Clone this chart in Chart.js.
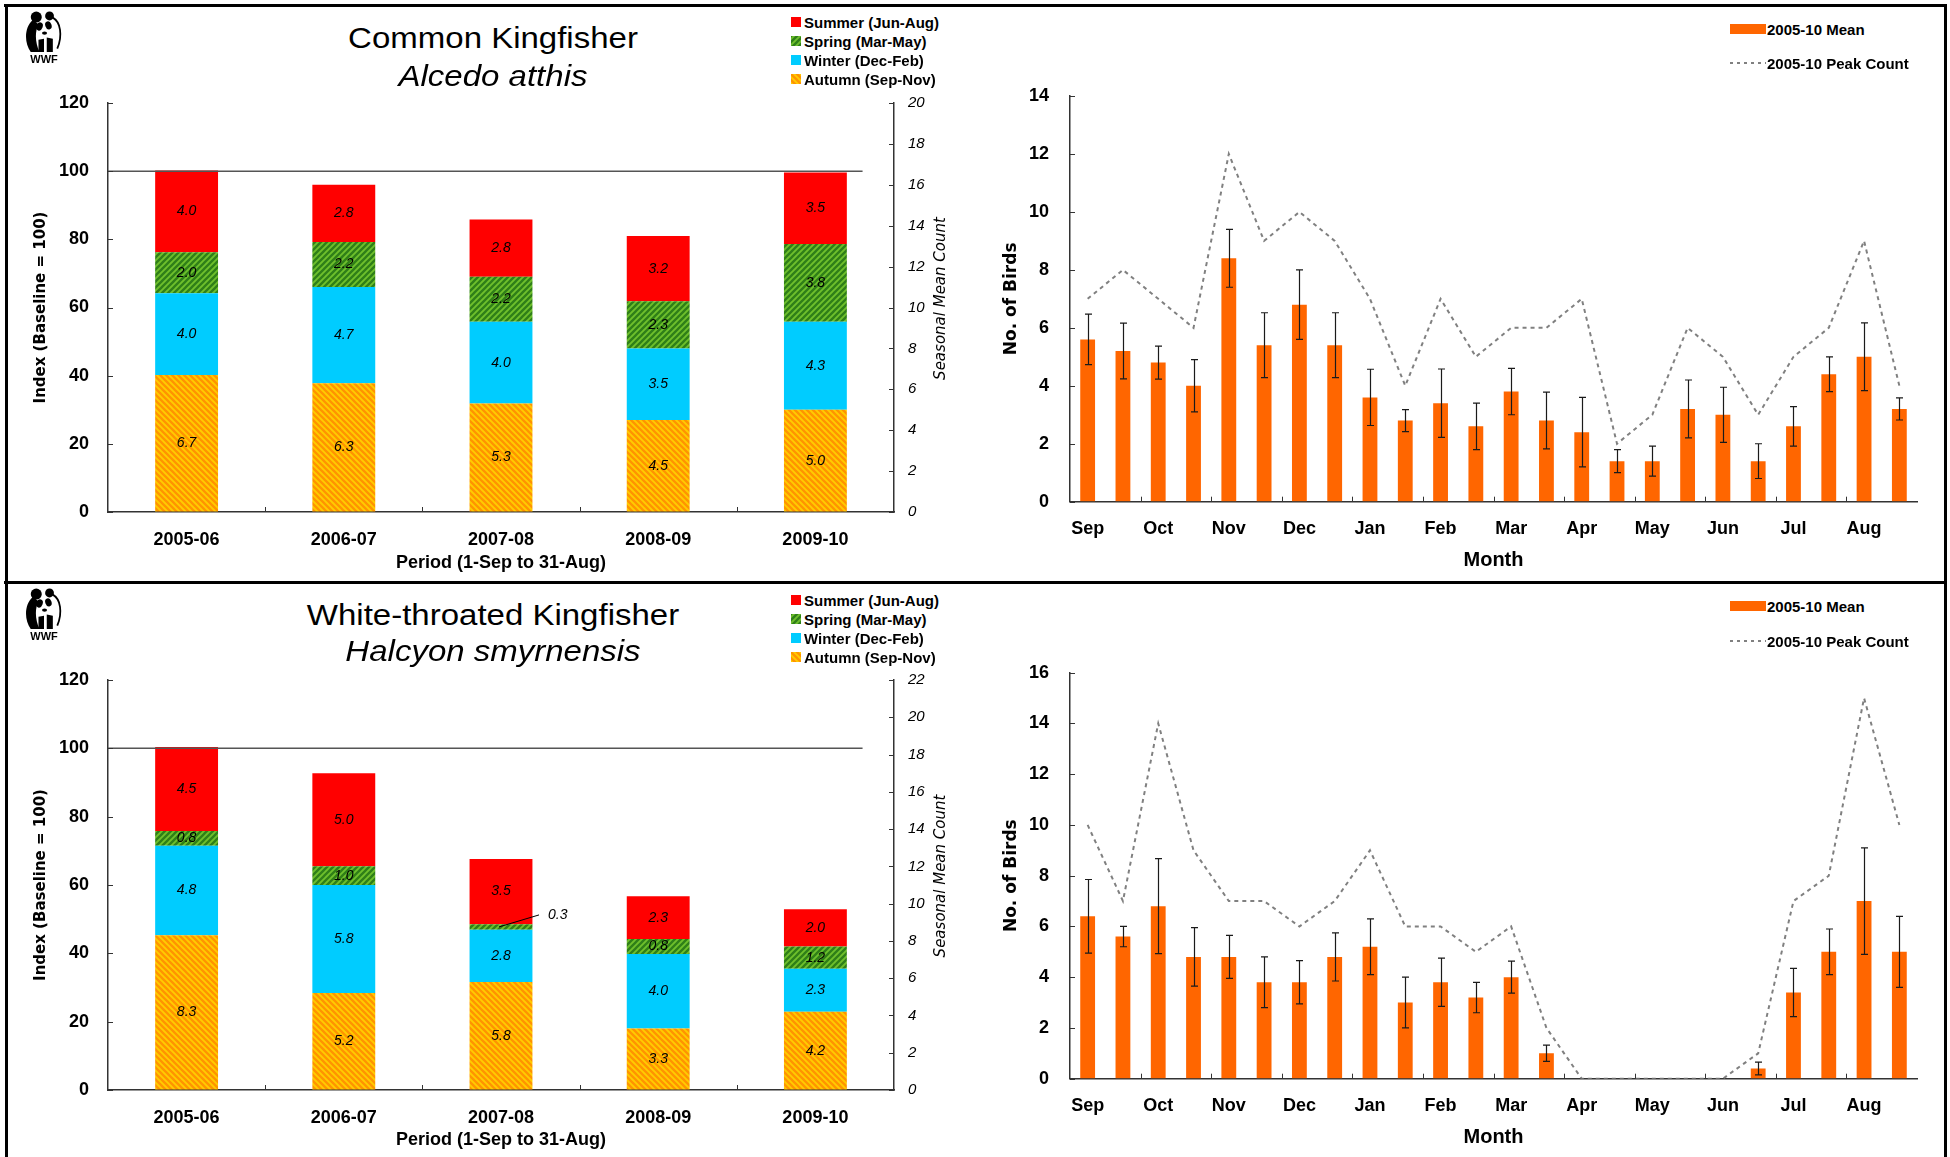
<!DOCTYPE html>
<html lang="en">
<head>
<meta charset="utf-8">
<title>Kingfisher counts 2005-2010</title>
<script src="https://cdn.jsdelivr.net/npm/chart.js@4.4.1/dist/chart.umd.min.js"></script>
<style>
  html, body { margin:0; padding:0; background:#fff; }
  body { position:relative; width:1950px; height:1157px; overflow:hidden;
         font-family:"Liberation Sans", Arial, Helvetica, sans-serif; color:#000; }
  .rule { position:absolute; background:#000; }
  canvas { position:absolute; }
  .title { position:absolute; left:293px; width:400px; text-align:center; white-space:nowrap;
           font-size:30px; line-height:34px; transform:scaleX(1.1); transform-origin:50% 50%; }
  .title.sci { font-style:italic; }
  .legtext { position:absolute; font-weight:bold; font-size:15px; line-height:19px; white-space:nowrap; }
  .wwf { position:absolute; width:40px; text-align:center; font-weight:bold; font-size:11px; line-height:12px; }
</style>
</head>
<body>
<canvas id="ckSeason" width="980" height="509" style="left:0;top:71px"></canvas>
<canvas id="ckMonth" width="990" height="518" style="left:950px;top:62px"></canvas>
<canvas id="wtSeason" width="980" height="509" style="left:0;top:648px"></canvas>
<canvas id="wtMonth" width="990" height="519" style="left:950px;top:638px"></canvas>

<div class="rule" style="left:4px;top:4px;width:1943px;height:3px"></div>
<div class="rule" style="left:5px;top:4px;width:3px;height:1153px"></div>
<div class="rule" style="left:1944px;top:4px;width:3px;height:1153px"></div>
<div class="rule" style="left:4px;top:581px;width:1943px;height:3px"></div>

<div class="title" style="top:21px">Common Kingfisher</div>
<div class="title sci" style="top:59px">Alcedo atthis</div>
<div class="title" style="top:598px">White-throated Kingfisher</div>
<div class="title sci" style="top:634px">Halcyon smyrnensis</div>

<div id="overlay"></div>

<script>
// ---- season totals (mean count per season, 1 Sep to 31 Aug) ----
const PERIODS = ['2005-06', '2006-07', '2007-08', '2008-09', '2009-10'];
const SEASONS = ['Summer (Jun-Aug)', 'Spring (Mar-May)', 'Winter (Dec-Feb)', 'Autumn (Sep-Nov)'];

// Common Kingfisher
const ckAutumn = [6.7, 6.3, 5.3, 4.5, 5.0];
const ckWinter = [4.0, 4.7, 4.0, 3.5, 4.3];
const ckSpring = [2.0, 2.2, 2.2, 2.3, 3.8];
const ckSummer = [4.0, 2.8, 2.8, 3.2, 3.5];

// White-throated Kingfisher
const wtAutumn = [8.3, 5.2, 5.8, 3.3, 4.2];
const wtWinter = [4.8, 5.8, 2.8, 4.0, 2.3];
const wtSpring = [0.8, 1.0, 0.3, 0.8, 1.2];
const wtSummer = [4.5, 5.0, 3.5, 2.3, 2.0];

// index axis: baseline year = 100; count axis maxima line up with index 120
const INDEX_MAX = 120;
const INDEX_STEP = 20;
const BASELINE = 100;
const CK_COUNT_MAX = 20;
const WT_COUNT_MAX = 22;
const COUNT_STEP = 2;

// ---- half-month counts, Sep to Aug ----
const MONTHS = ['Sep', 'Oct', 'Nov', 'Dec', 'Jan', 'Feb', 'Mar', 'Apr', 'May', 'Jun', 'Jul', 'Aug'];
const HALF_MONTHS = MONTHS.flatMap(m => [m + ' (1st half)', m + ' (2nd half)']);

const ckMean = [5.6, 5.2, 4.8, 4.0, 8.4, 5.4, 6.8, 5.4, 3.6, 2.8, 3.4, 2.6,
                3.8, 2.8, 2.4, 1.4, 1.4, 3.2, 3.0, 1.4, 2.6, 4.4, 5.0, 3.2];
const ckErr  = [0.87, 0.96, 0.57, 0.9, 1.0, 1.12, 1.2, 1.12, 0.97, 0.38, 1.18, 0.8,
                0.8, 0.98, 1.2, 0.4, 0.52, 1.0, 0.95, 0.6, 0.68, 0.6, 1.17, 0.38];
const ckPeak = [7, 8, 7, 6, 12, 9, 10, 9, 7, 4, 7, 5,
                6, 6, 7, 2, 3, 6, 5, 3, 5, 6, 9, 4];

const wtMean = [6.4, 5.6, 6.8, 4.8, 4.8, 3.8, 3.8, 4.8, 5.2, 3.0, 3.8, 3.2,
                4.0, 1.0, 0, 0, 0, 0, 0, 0.4, 3.4, 5.0, 7.0, 5.0];
const wtErr  = [1.45, 0.4, 1.87, 1.15, 0.85, 1.0, 0.85, 0.95, 1.1, 1.0, 0.95, 0.6,
                0.63, 0.32, 0, 0, 0, 0, 0, 0.25, 0.95, 0.9, 2.1, 1.4];
const wtPeak = [10, 7, 14, 9, 7, 7, 6, 7, 9, 6, 6, 5,
                6, 2, 0, 0, 0, 0, 0, 1, 7, 8, 15, 10];

const CK_BIRDS_MAX = 14;
const WT_BIRDS_MAX = 16;
const BIRDS_STEP = 2;

const MEAN_LABEL = '2005-10 Mean';
const PEAK_LABEL = '2005-10 Peak Count';

// ---- styling ----
const SANS = '"Liberation Sans", Arial, Helvetica, sans-serif';
const WIDE = '"DejaVu Sans", Verdana, sans-serif';
const AXIS = '#333333';
const COLORS = {
  summer: '#FF0000',
  winter: '#00CCFF',
  springBase: '#6FC02C', springLine: '#2F7F18',
  autumnBase: '#FFCC00', autumnLine: '#FF9400',
  mean: '#FF6600',
  peak: '#808080'
};

// diagonal hatch tile; dir 'down' = "\" stripes, 'up' = "/" stripes
function hatchTile(base, stripe, dir) {
  const s = 6;
  const c = document.createElement('canvas');
  c.width = s; c.height = s;
  const g = c.getContext('2d');
  g.fillStyle = base;
  g.fillRect(0, 0, s, s);
  g.strokeStyle = stripe;
  g.lineWidth = 2.3;
  g.beginPath();
  for (let k = -1; k <= 1; k++) {
    if (dir === 'down') { g.moveTo(-s, k * s - s); g.lineTo(2 * s, k * s + 2 * s); }
    else { g.moveTo(-s, k * s + 2 * s); g.lineTo(2 * s, k * s - s); }
  }
  g.stroke();
  return c;
}
function seasonFills(ctx) {
  return {
    summer: COLORS.summer,
    winter: COLORS.winter,
    spring: ctx.createPattern(hatchTile(COLORS.springBase, COLORS.springLine, 'up'), 'repeat'),
    autumn: ctx.createPattern(hatchTile(COLORS.autumnBase, COLORS.autumnLine, 'down'), 'repeat')
  };
}

// ---- plugins ----
// horizontal reference line at the baseline index
const baselinePlugin = {
  id: 'baseline',
  afterDatasetsDraw(chart, args, opts) {
    const y = chart.scales.y.getPixelForValue(opts.value);
    const xs = chart.scales.x;
    const n = chart.data.labels.length;
    const cw = (xs.right - xs.left) / n;
    const x2 = xs.getPixelForValue(n - 1) + cw * 0.3;
    const ctx = chart.ctx;
    ctx.save();
    ctx.strokeStyle = '#555555';
    ctx.lineWidth = 1.5;
    ctx.beginPath();
    ctx.moveTo(chart.chartArea.left, y);
    ctx.lineTo(x2, y);
    ctx.stroke();
    ctx.restore();
  }
};

// value written inside each stacked segment (or beside it, with a leader, when too thin)
const segmentLabelPlugin = {
  id: 'segmentLabels',
  afterDatasetsDraw(chart) {
    const ctx = chart.ctx;
    ctx.save();
    ctx.font = 'italic 14px ' + SANS;
    ctx.fillStyle = '#000';
    ctx.strokeStyle = '#000';
    ctx.lineWidth = 1;
    ctx.textBaseline = 'middle';
    chart.data.datasets.forEach((ds, di) => {
      chart.getDatasetMeta(di).data.forEach((bar, i) => {
        const v = ds.data[i];
        const yc = (bar.y + bar.base) / 2;
        const txt = v.toFixed(1);
        if (Math.abs(bar.base - bar.y) < 9) {
          const lx = bar.x + 38, ly = yc - 12;
          ctx.beginPath();
          ctx.moveTo(bar.x - 2, yc);
          ctx.lineTo(lx, ly);
          ctx.stroke();
          ctx.textAlign = 'left';
          ctx.fillText(txt, lx + 9, ly);
        } else {
          ctx.textAlign = 'center';
          ctx.fillText(txt, bar.x, yc);
        }
      });
    });
    ctx.restore();
  }
};

// short tick marks drawn inward from each axis line
const innerTickPlugin = {
  id: 'innerTicks',
  afterDraw(chart, args, opts) {
    const ctx = chart.ctx;
    const len = 5;
    ctx.save();
    ctx.strokeStyle = AXIS;
    ctx.lineWidth = 1;
    ctx.beginPath();
    (opts.axes || []).forEach(a => {
      const s = chart.scales[a.id];
      if (s.isHorizontal()) {
        const n = chart.data.labels.length;
        const cw = (s.right - s.left) / n;
        for (let i = a.every; i < n; i += a.every) {
          const x = Math.round(s.left + i * cw) + 0.5;
          ctx.moveTo(x, s.top);
          ctx.lineTo(x, s.top - len);
        }
      } else {
        s.ticks.forEach(t => {
          const y = Math.round(s.getPixelForValue(t.value)) + 0.5;
          const x = s.position === 'left' ? s.right : s.left;
          const d = s.position === 'left' ? len : -len;
          ctx.moveTo(x, y);
          ctx.lineTo(x + d, y);
        });
      }
    });
    ctx.stroke();
    ctx.restore();
  }
};

// title for the right-hand count axis, reading bottom to top
const sideTitlePlugin = {
  id: 'sideTitle',
  afterDraw(chart, args, opts) {
    const ca = chart.chartArea;
    const ctx = chart.ctx;
    ctx.save();
    ctx.translate(ca.right + opts.dx, (ca.top + ca.bottom) / 2 + opts.dy);
    ctx.rotate(-Math.PI / 2);
    ctx.font = 'italic 15px ' + WIDE;
    ctx.fillStyle = '#000';
    ctx.textAlign = 'center';
    ctx.textBaseline = 'middle';
    ctx.fillText(opts.text, 0, 0);
    ctx.restore();
  }
};

// +/- error whiskers on the mean bars
const errorBarPlugin = {
  id: 'errorBars',
  afterDatasetsDraw(chart, args, opts) {
    const meta = chart.getDatasetMeta(opts.datasetIndex);
    const ds = chart.data.datasets[opts.datasetIndex];
    const ys = chart.scales.y;
    const ctx = chart.ctx;
    ctx.save();
    ctx.strokeStyle = '#1a1a1a';
    ctx.lineWidth = 1.2;
    ctx.beginPath();
    meta.data.forEach((bar, i) => {
      const e = opts.errors[i];
      if (!e) return;
      const v = ds.data[i];
      const yt = ys.getPixelForValue(v + e);
      const yb = ys.getPixelForValue(Math.max(0, v - e));
      const x = Math.round(bar.x) + 0.5;
      ctx.moveTo(x, yt); ctx.lineTo(x, yb);
      ctx.moveTo(x - 3.5, yt); ctx.lineTo(x + 3.5, yt);
      ctx.moveTo(x - 3.5, yb); ctx.lineTo(x + 3.5, yb);
    });
    ctx.stroke();
    ctx.restore();
  }
};

const quietPlugins = { legend: { display: false }, tooltip: { enabled: false }, title: { display: false } };

// ---- seasonal stacked index charts ----
function seasonChart(id, s, countMax, dims) {
  const ctx = document.getElementById(id).getContext('2d');
  const fill = seasonFills(ctx);
  const bar = { yAxisID: 'yCount', stack: 'season', barPercentage: 0.4, categoryPercentage: 1.0, borderWidth: 0 };
  return new Chart(ctx, {
    type: 'bar',
    data: {
      labels: PERIODS,
      datasets: [
        Object.assign({ label: SEASONS[3], data: s.autumn, backgroundColor: fill.autumn }, bar),
        Object.assign({ label: SEASONS[2], data: s.winter, backgroundColor: fill.winter }, bar),
        Object.assign({ label: SEASONS[1], data: s.spring, backgroundColor: fill.spring }, bar),
        Object.assign({ label: SEASONS[0], data: s.summer, backgroundColor: fill.summer }, bar)
      ]
    },
    options: {
      responsive: false, animation: false, devicePixelRatio: 1,
      layout: { padding: { top: dims.padTop, left: 0, right: 0, bottom: 0 } },
      plugins: Object.assign({}, quietPlugins, {
        baseline: { value: BASELINE },
        innerTicks: { axes: [{ id: 'x', every: 1 }, { id: 'y' }, { id: 'yCount' }] },
        sideTitle: { text: 'Seasonal Mean Count', dx: 47, dy: -9 }
      }),
      scales: {
        x: {
          stacked: true,
          grid: { drawOnChartArea: false, drawTicks: false },
          border: { color: AXIS, width: 1.5 },
          ticks: { color: '#000', font: { family: SANS, size: 18, weight: 'bold' }, padding: 17, maxRotation: 0 },
          title: { display: true, text: 'Period (1-Sep to 31-Aug)', color: '#000',
                   font: { family: SANS, size: 18, weight: 'bold' }, padding: { top: 0, bottom: 6 } },
          afterFit: sc => { sc.height = dims.xHeight; }
        },
        y: {
          position: 'left', min: 0, max: INDEX_MAX,
          grid: { drawOnChartArea: false, drawTicks: false },
          border: { color: AXIS, width: 1.5 },
          ticks: { stepSize: INDEX_STEP, color: '#000', font: { family: SANS, size: 18, weight: 'bold' }, padding: 19 },
          title: { display: true, text: 'Index (Baseline = 100)', color: '#000',
                   font: { family: WIDE, size: 15, weight: 'bold' }, padding: { top: 32, bottom: 0 } },
          afterFit: sc => { sc.width = 108; }
        },
        yCount: {
          position: 'right', stacked: true, min: 0, max: countMax,
          grid: { drawOnChartArea: false, drawTicks: false },
          border: { color: AXIS, width: 1.5 },
          ticks: { stepSize: COUNT_STEP, color: '#000', font: { family: SANS, size: 15, style: 'italic' }, padding: 14 },
          afterFit: sc => { sc.width = 86; }
        }
      }
    },
    plugins: [baselinePlugin, segmentLabelPlugin, innerTickPlugin, sideTitlePlugin]
  });
}

// ---- half-month mean / peak charts ----
function monthChart(id, mean, err, peak, yMax, dims) {
  const ctx = document.getElementById(id).getContext('2d');
  return new Chart(ctx, {
    type: 'bar',
    data: {
      labels: HALF_MONTHS,
      datasets: [
        { type: 'line', label: PEAK_LABEL, data: peak, order: 0, borderColor: COLORS.peak,
          borderWidth: 2, borderDash: [4, 4], pointRadius: 0, tension: 0, fill: false },
        { type: 'bar', label: MEAN_LABEL, data: mean, order: 1, backgroundColor: COLORS.mean,
          barPercentage: 0.42, categoryPercentage: 1.0, borderWidth: 0 }
      ]
    },
    options: {
      responsive: false, animation: false, devicePixelRatio: 1,
      layout: { padding: { top: dims.padTop, left: 0, right: 23, bottom: 0 } },
      plugins: Object.assign({}, quietPlugins, {
        errorBars: { datasetIndex: 1, errors: err },
        innerTicks: { axes: [{ id: 'x', every: 2 }, { id: 'y' }] }
      }),
      scales: {
        x: {
          grid: { drawOnChartArea: false, drawTicks: false },
          border: { color: AXIS, width: 1.5 },
          ticks: { autoSkip: false, maxRotation: 0, minRotation: 0, color: '#000',
                   font: { family: SANS, size: 18, weight: 'bold' }, padding: dims.tickPad,
                   callback: (v, i) => (i % 2 === 0 ? MONTHS[i / 2] : '') },
          title: { display: true, text: 'Month', color: '#000',
                   font: { family: SANS, size: 20, weight: 'bold' }, padding: { top: 0, bottom: dims.titlePad } },
          afterFit: sc => { sc.height = dims.xHeight; }
        },
        y: {
          min: 0, max: yMax,
          grid: { drawOnChartArea: false, drawTicks: false },
          border: { color: AXIS, width: 1.5 },
          ticks: { stepSize: BIRDS_STEP, color: '#000', font: { family: SANS, size: 18, weight: 'bold' }, padding: 21 },
          title: { display: true, text: 'No. of Birds', color: '#000',
                   font: { family: WIDE, size: 17, weight: 'bold' }, padding: { top: 51, bottom: 0 } },
          afterFit: sc => { sc.width = 120; }
        }
      }
    },
    plugins: [errorBarPlugin, innerTickPlugin]
  });
}

seasonChart('ckSeason', { autumn: ckAutumn, winter: ckWinter, spring: ckSpring, summer: ckSummer },
            CK_COUNT_MAX, { padTop: 32, xHeight: 68 });
seasonChart('wtSeason', { autumn: wtAutumn, winter: wtWinter, spring: wtSpring, summer: wtSummer },
            WT_COUNT_MAX, { padTop: 32, xHeight: 67 });
monthChart('ckMonth', ckMean, ckErr, ckPeak, CK_BIRDS_MAX, { padTop: 34, xHeight: 78.3, tickPad: 16.2, titlePad: 8 });
monthChart('wtMonth', wtMean, wtErr, wtPeak, WT_BIRDS_MAX, { padTop: 34.7, xHeight: 78.3, tickPad: 16.5, titlePad: 7.2 });

// ---- legends and logos ----
const overlay = document.getElementById('overlay');
function put(el, css) { Object.assign(el.style, css); overlay.appendChild(el); return el; }
function text(str, left, cy) {
  const d = document.createElement('div');
  d.className = 'legtext';
  d.textContent = str;
  return put(d, { left: left + 'px', top: (cy - 9.5) + 'px' });
}
function swatch(left, top, w, h, paint) {
  const c = document.createElement('canvas');
  c.width = w; c.height = h;
  const g = c.getContext('2d');
  g.fillStyle = paint(g);
  g.fillRect(0, 0, w, h);
  return put(c, { left: left + 'px', top: top + 'px' });
}
const seasonPaint = [
  () => COLORS.summer,
  g => g.createPattern(hatchTile(COLORS.springBase, COLORS.springLine, 'up'), 'repeat'),
  () => COLORS.winter,
  g => g.createPattern(hatchTile(COLORS.autumnBase, COLORS.autumnLine, 'down'), 'repeat')
];
[[22, 41, 60, 79], [600, 619, 638, 657]].forEach(rows => {
  rows.forEach((cy, i) => {
    swatch(791, cy - 5, 10, 10, seasonPaint[i]);
    text(SEASONS[i], 804, cy);
  });
});
[[29, 63], [606, 641]].forEach(([cyMean, cyPeak]) => {
  swatch(1730, cyMean - 5, 36, 10, () => COLORS.mean);
  text(MEAN_LABEL, 1767, cyMean);
  const ns = 'http://www.w3.org/2000/svg';
  const svg = document.createElementNS(ns, 'svg');
  svg.setAttribute('width', '36'); svg.setAttribute('height', '4');
  const ln = document.createElementNS(ns, 'line');
  ln.setAttribute('x1', '0'); ln.setAttribute('y1', '2'); ln.setAttribute('x2', '36'); ln.setAttribute('y2', '2');
  ln.setAttribute('stroke', COLORS.peak); ln.setAttribute('stroke-width', '2'); ln.setAttribute('stroke-dasharray', '3 4');
  svg.appendChild(ln);
  svg.style.position = 'absolute';
  put(svg, { left: '1730px', top: (cyPeak - 2) + 'px' });
  text(PEAK_LABEL, 1767, cyPeak);
});

// panda emblem
const PANDA = '<svg width="38" height="42" viewBox="0 0 34 38" xmlns="http://www.w3.org/2000/svg">' +
  '<circle cx="10" cy="5.5" r="5"/><circle cx="22" cy="4.5" r="4"/>' +
  '<path d="M7 8 C-1 15 -1 29 5 37 L13 37 C9 29 8.5 19 12 12 Z"/>' +
  '<ellipse cx="13" cy="14" rx="2.8" ry="3.8" transform="rotate(20 13 14)"/>' +
  '<ellipse cx="21" cy="13" rx="2.8" ry="3.8" transform="rotate(-20 21 13)"/>' +
  '<ellipse cx="17.5" cy="20" rx="2.3" ry="1.5"/>' +
  '<path d="M12 26 L17 25 L17 37 L12 37 Z"/><path d="M19.5 24 L25 25 L25 37 L19.5 37 Z"/>' +
  '<path d="M25 6 C32 10 34 22 29 34" fill="none" stroke="#000" stroke-width="1.6"/></svg>';
[0, 577].forEach(dy => {
  const p = document.createElement('div');
  p.innerHTML = PANDA;
  put(p, { position: 'absolute', left: '25px', top: (11 + dy) + 'px', lineHeight: '0' });
  const w = document.createElement('div');
  w.className = 'wwf';
  w.textContent = 'WWF';
  put(w, { left: '24px', top: (53 + dy) + 'px' });
});
</script>
</body>
</html>
